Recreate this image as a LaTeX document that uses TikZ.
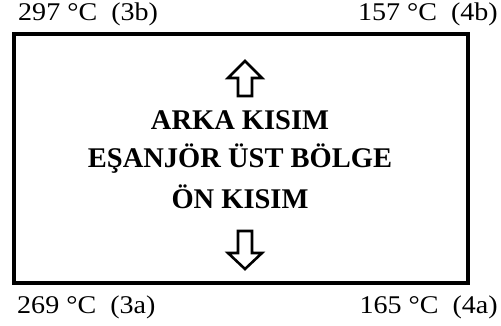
\documentclass[tikz,border=0pt]{standalone}
\usepackage{fontspec}
\setmainfont{Liberation Serif}
\begin{document}
\begin{tikzpicture}[x=1pt,y=-1pt,
  lbl/.style={inner sep=0pt, font=\fontsize{25.5}{28}\selectfont, xscale=1.1, transform shape},
  title/.style={inner sep=0pt, anchor=base, font=\fontsize{28.5}{32}\bfseries\selectfont},
  frame/.style={draw=black, line width=3.5pt},
  hollow/.style={draw=black, line width=2.6pt, line join=miter, fill=white}]
\useasboundingbox (0,0) rectangle (501,325);
\draw[frame] (14,34) rectangle (468,283);
\node[lbl, anchor=base west] (tl) at (18,20) {297 °C\ \ (3b)};
\node[lbl, anchor=base east] (tr) at (498,20) {157 °C\ \ (4b)};
\node[lbl, anchor=base west] (bl) at (17,313) {269 °C\ \ (3a)};
\node[lbl, anchor=base east] (br) at (498,313) {165 °C\ \ (4a)};
\node[title] (t1) at (240,129) {ARKA KISIM};
\node[title] (t2) at (240,167) {EŞANJÖR ÜST BÖLGE};
\node[title] (t3) at (240,208) {ÖN KISIM};
\draw[hollow] (245,61) -- (262,78) -- (252,78) -- (252,96) -- (238,96) -- (238,78) -- (228,78) -- cycle;
\draw[hollow] (245,269) -- (262,253) -- (252,253) -- (252,231) -- (238,231) -- (238,253) -- (228,253) -- cycle;
\end{tikzpicture}
\end{document}
